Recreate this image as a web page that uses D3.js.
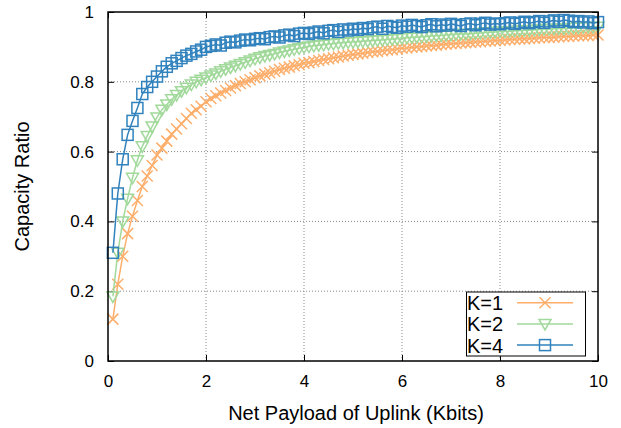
<!doctype html>
<html lang="en">
<head>
  <meta charset="utf-8">
  <title>Capacity Ratio vs Net Payload</title>
  <style>
    body { margin: 0; background: #fff; }
    svg text { font-family: "Liberation Sans", Arial, sans-serif; fill: #000; }
  </style>
</head>
<body>
  <script src="https://cdn.jsdelivr.net/npm/d3@7"></script>
  <script>
    // Payload values (Kbits), 0.1 .. 10.0
    const payload = d3.range(1, 101).map((i) => i / 10);

    const k1 = [
      0.12, 0.22, 0.30, 0.365, 0.415, 0.46, 0.50, 0.53, 0.56, 0.59,
      0.61, 0.63, 0.65, 0.665, 0.68, 0.695, 0.71, 0.72, 0.73, 0.743,
      0.752, 0.76, 0.768, 0.775, 0.782, 0.789, 0.795, 0.80, 0.806, 0.812,
      0.817, 0.822, 0.826, 0.83, 0.835, 0.839, 0.842, 0.846, 0.849, 0.853,
      0.855, 0.858, 0.861, 0.864, 0.866, 0.869, 0.871, 0.874, 0.876, 0.878,
      0.88, 0.882, 0.884, 0.886, 0.887, 0.889, 0.891, 0.892, 0.894, 0.896,
      0.897, 0.899, 0.90, 0.901, 0.903, 0.904, 0.905, 0.907, 0.908, 0.909,
      0.910, 0.911, 0.912, 0.913, 0.914, 0.915, 0.916, 0.917, 0.918, 0.919,
      0.920, 0.921, 0.922, 0.923, 0.923, 0.924, 0.925, 0.926, 0.927, 0.927,
      0.928, 0.929, 0.930, 0.930, 0.931, 0.932, 0.932, 0.933, 0.934, 0.934
    ];

    const k2 = [
      0.185, 0.31, 0.40, 0.465, 0.525, 0.575, 0.615, 0.645, 0.672, 0.698,
      0.72, 0.735, 0.75, 0.762, 0.773, 0.783, 0.792, 0.80, 0.806, 0.812,
      0.818, 0.824, 0.830, 0.836, 0.841, 0.846, 0.851, 0.856, 0.861, 0.866,
      0.870, 0.874, 0.877, 0.880, 0.884, 0.887, 0.890, 0.893, 0.896, 0.899,
      0.901, 0.903, 0.905, 0.906, 0.908, 0.909, 0.911, 0.912, 0.913, 0.914,
      0.915, 0.916, 0.917, 0.918, 0.919, 0.920, 0.921, 0.922, 0.923, 0.925,
      0.926, 0.927, 0.928, 0.929, 0.930, 0.931, 0.932, 0.933, 0.934, 0.935,
      0.936, 0.937, 0.937, 0.938, 0.939, 0.940, 0.941, 0.942, 0.943, 0.944,
      0.944, 0.945, 0.946, 0.947, 0.948, 0.948, 0.949, 0.950, 0.951, 0.951,
      0.952, 0.953, 0.953, 0.954, 0.955, 0.955, 0.956, 0.957, 0.957, 0.958
    ];

    const k4 = [
      0.31, 0.48, 0.578, 0.648, 0.688, 0.725, 0.765, 0.785, 0.80, 0.815,
      0.83, 0.843, 0.853, 0.86, 0.868, 0.875, 0.88, 0.887, 0.892, 0.90,
      0.903, 0.907, 0.904, 0.912, 0.915, 0.913, 0.918, 0.921, 0.919, 0.923,
      0.925, 0.922, 0.928, 0.930, 0.927, 0.933, 0.935, 0.931, 0.938, 0.940,
      0.937, 0.941, 0.944, 0.939, 0.946, 0.948, 0.943, 0.950, 0.947, 0.952,
      0.949, 0.954, 0.951, 0.956, 0.958, 0.952, 0.960, 0.957, 0.955, 0.961,
      0.958, 0.963, 0.960, 0.957, 0.962, 0.965, 0.959, 0.964, 0.961, 0.966,
      0.963, 0.960, 0.965, 0.967, 0.962, 0.966, 0.969, 0.964, 0.967, 0.965,
      0.968, 0.970, 0.966, 0.969, 0.972, 0.968, 0.971, 0.974, 0.969, 0.973,
      0.976, 0.972, 0.977, 0.975, 0.971, 0.974, 0.970, 0.973, 0.968, 0.971
    ];

    const xTicks = [0, 2, 4, 6, 8, 10];
    const yTicks = [0, 0.2, 0.4, 0.6, 0.8, 1];

    const series = [
      { name: 'K=1', values: k1, color: '#fdae6b', marker: 'cross' },
      { name: 'K=2', values: k2, color: '#a1d99b', marker: 'tri' },
      { name: 'K=4', values: k4, color: '#3182bd', marker: 'square' }
    ];

    // Dimensions
    const w = 621;
    const h = 428;
    const pLeft = 108, pRight = 598, pTop = 12, pBottom = 361;

    const xScale = d3.scaleLinear().domain([0, 10]).range([pLeft, pRight]);
    const yScale = d3.scaleLinear().domain([0, 1]).range([pBottom, pTop]);

    const svg = d3.select('body')
                  .append('svg')
                  .attr('width', w)
                  .attr('height', h);

    // Grid
    svg.append('g')
       .selectAll('line')
       .data(xTicks.slice(1, -1))
       .enter()
       .append('line')
       .attr('x1', (d) => xScale(d)).attr('x2', (d) => xScale(d))
       .attr('y1', pTop).attr('y2', pBottom)
       .attr('stroke', '#888').attr('stroke-width', 1)
       .attr('stroke-dasharray', '1,2');

    svg.append('g')
       .selectAll('line')
       .data(yTicks.slice(1, -1))
       .enter()
       .append('line')
       .attr('x1', pLeft).attr('x2', pRight)
       .attr('y1', (d) => yScale(d)).attr('y2', (d) => yScale(d))
       .attr('stroke', '#888').attr('stroke-width', 1)
       .attr('stroke-dasharray', '1,2');

    // Axes (inward ticks, mirrored)
    const fmt = (d) => d3.format('~g')(d);
    svg.append('g')
       .attr('transform', `translate(0, ${pBottom})`)
       .call(d3.axisBottom(xScale).tickValues(xTicks).tickSize(-6).tickPadding(14).tickFormat(fmt))
       .call((g) => g.select('.domain').remove());
    svg.append('g')
       .attr('transform', `translate(0, ${pTop})`)
       .call(d3.axisTop(xScale).tickValues(xTicks).tickSize(-6).tickFormat(''))
       .call((g) => g.select('.domain').remove());
    svg.append('g')
       .attr('transform', `translate(${pLeft}, 0)`)
       .call(d3.axisLeft(yScale).tickValues(yTicks).tickSize(-6).tickPadding(14).tickFormat(fmt))
       .call((g) => g.select('.domain').remove());
    svg.append('g')
       .attr('transform', `translate(${pRight}, 0)`)
       .call(d3.axisRight(yScale).tickValues(yTicks).tickSize(-6).tickFormat(''))
       .call((g) => g.select('.domain').remove());

    svg.selectAll('.tick text').style('font-size', '17px');
    svg.selectAll('.tick line').attr('stroke', '#000');

    // Curves
    const line = d3.line()
                   .x((d) => xScale(d[0]))
                   .y((d) => yScale(d[1]));

    function drawMarker(g, type, color) {
      if (type === 'cross') {
        g.append('path').attr('d', 'M-5.5,-5.5L5.5,5.5M-5.5,5.5L5.5,-5.5')
         .attr('stroke', color).attr('stroke-width', 1.5).attr('fill', 'none');
      } else if (type === 'tri') {
        g.append('path').attr('d', 'M-6,-4.5L6,-4.5L0,6Z')
         .attr('stroke', color).attr('stroke-width', 1.5).attr('fill', 'none');
      } else {
        g.append('rect').attr('x', -5.5).attr('y', -5.5).attr('width', 11).attr('height', 11)
         .attr('stroke', color).attr('stroke-width', 1.5).attr('fill', 'none');
      }
    }

    series.forEach((s) => {
      const pts = payload.map((x, i) => [x, s.values[i]]);
      svg.append('path')
         .datum(pts)
         .attr('d', line)
         .attr('fill', 'none')
         .attr('stroke', s.color)
         .attr('stroke-width', 1.5);
      svg.append('g')
         .selectAll('g')
         .data(pts)
         .enter()
         .append('g')
         .attr('transform', (d) => `translate(${xScale(d[0])}, ${yScale(d[1])})`)
         .each(function () { drawMarker(d3.select(this), s.marker, s.color); });
    });

    // Plot border
    svg.append('rect')
       .attr('x', pLeft).attr('y', pTop)
       .attr('width', pRight - pLeft).attr('height', pBottom - pTop)
       .attr('fill', 'none').attr('stroke', '#000').attr('stroke-width', 1.5);

    // Legend
    const legend = svg.append('g');
    legend.append('rect')
          .attr('x', 466.5).attr('y', 292)
          .attr('width', 119).attr('height', 64)
          .attr('fill', '#fff').attr('stroke', '#000').attr('stroke-width', 1);
    series.forEach((s, i) => {
      const cy = 302.7 + i * 21.2;
      legend.append('text')
            .attr('x', 467).attr('y', cy + 7.5)
            .style('font-size', '20px')
            .text(s.name);
      legend.append('line')
            .attr('x1', 517).attr('x2', 573)
            .attr('y1', cy).attr('y2', cy)
            .attr('stroke', s.color).attr('stroke-width', 1.5);
      drawMarker(legend.append('g').attr('transform', `translate(545, ${cy})`), s.marker, s.color);
    });

    // Axis titles
    svg.append('text')
       .attr('x', (pLeft + pRight) / 2 + 3).attr('y', 420)
       .attr('text-anchor', 'middle')
       .style('font-size', '20px')
       .text('Net Payload of Uplink (Kbits)');

    svg.append('text')
       .attr('transform', `translate(29, ${(pTop + pBottom) / 2}) rotate(-90)`)
       .attr('text-anchor', 'middle')
       .style('font-size', '20px')
       .text('Capacity Ratio');
  </script>
</body>
</html>
